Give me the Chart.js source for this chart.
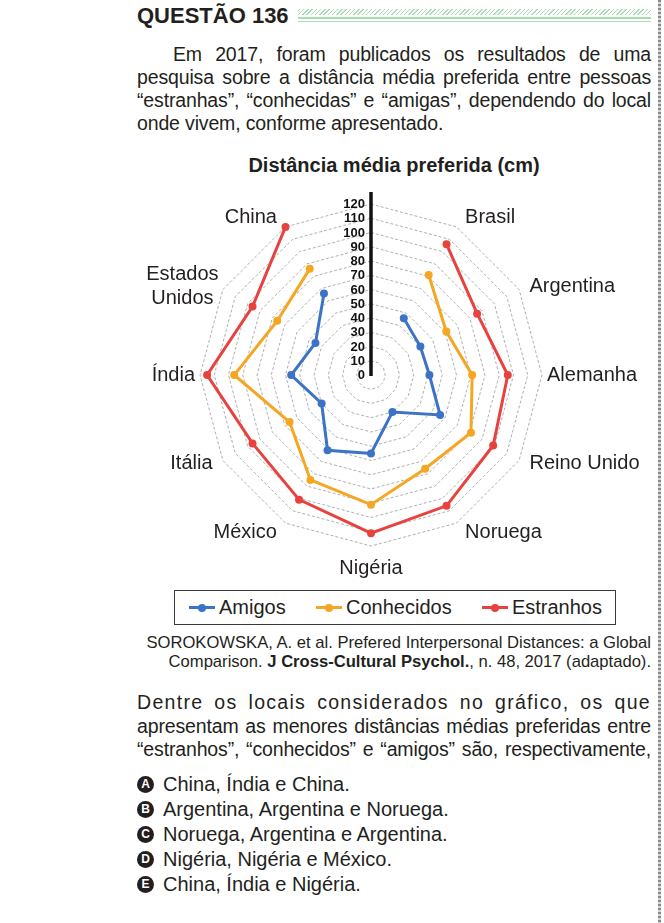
<!DOCTYPE html>
<html lang="pt-BR">
<head>
<meta charset="utf-8">
<title>Questão 136</title>
<script src="https://cdn.jsdelivr.net/npm/chart.js@4.4.1/dist/chart.umd.min.js"></script>
<style>
    html, body {
        margin: 0;
        padding: 0;
        background: #fff;
    }
    body {
        position: relative;
        width: 664px;
        height: 923px;
        overflow: hidden;
        font-family: "Liberation Sans", Arial, sans-serif;
        color: #231f20;
    }
    .abs { position: absolute; }
    #questao {
        left: 137px;
        top: 3px;
        font-weight: bold;
        font-size: 22px;
        line-height: 26px;
    }
    #faixa {
        left: 298px;
        top: 9px;
        width: 353px;
        height: 14px;
    }
    #faixa .hachura {
        height: 6px;
        background: repeating-linear-gradient(-45deg, #a9dcb2 0 1px, transparent 1px 3px);
    }
    #faixa .linha {
        height: 1.5px;
        background: #a9dcb2;
        margin-top: 2px;
    }
    #borda {
        left: 658px;
        top: 0;
        width: 3px;
        height: 923px;
        background: repeating-linear-gradient(to bottom, #8a8a8a 0 2px, #d6d6d6 2px 4px);
    }
    .linhas div {
        white-space: nowrap;
        text-align: justify;
        text-align-last: justify;
        letter-spacing: -0.15px;
    }
    .linhas div.fim {
        text-align-last: left;
    }
    #enunciado {
        left: 137px;
        top: 43px;
        width: 514px;
        font-size: 19.5px;
        line-height: 23px;
    }
    #enunciado .l1 { padding-left: 36px; }
    #titulo {
        left: 137px;
        top: 153px;
        width: 514px;
        text-align: center;
        font-weight: bold;
        font-size: 20px;
        line-height: 24px;
    }
    #grafico {
        left: 0;
        top: 174px;
        width: 664px;
        height: 414px;
    }
    #legenda {
        left: 174px;
        top: 590px;
        width: 413px;
        height: 33px;
        border: 1px solid #3a3a3a;
        padding: 0 13px 0 14px;
        display: flex;
        justify-content: space-between;
        align-items: center;
        font-size: 20px;
    }
    #legenda .item {
        display: flex;
        align-items: center;
    }
    #legenda .marca {
        position: relative;
        width: 26px;
        height: 3px;
        margin-right: 4px;
    }
    #legenda .marca span {
        position: absolute;
        left: 9px;
        top: -2.5px;
        width: 8px;
        height: 8px;
        border-radius: 50%;
    }
    #fonte {
        left: 137px;
        top: 633px;
        width: 514px;
        text-align: right;
        font-size: 16.6px;
        line-height: 19px;
    }
    #pergunta {
        left: 137px;
        top: 691px;
        width: 514px;
        font-size: 19.5px;
        line-height: 23.5px;
    }
    #pergunta .l1 { letter-spacing: 1.3px; }
    #alternativas {
        left: 137px;
        top: 772px;
        font-size: 20px;
        line-height: 25px;
    }
    #alternativas div {
        display: flex;
        align-items: center;
    }
    #alternativas b {
        display: inline-block;
        width: 17px;
        height: 17px;
        border-radius: 50%;
        background: #231f20;
        color: #fff;
        font-size: 12px;
        line-height: 17px;
        text-align: center;
        margin-right: 9px;
    }
</style>
</head>
<body>

<div id="questao" class="abs">QUESTÃO 136</div>
<div id="faixa" class="abs"><div class="hachura"></div><div class="linha"></div><div class="linha"></div></div>
<div id="borda" class="abs"></div>

<div id="enunciado" class="abs linhas">
    <div class="l1">Em 2017, foram publicados os resultados de uma</div>
    <div>pesquisa sobre a distância média preferida entre pessoas</div>
    <div>“estranhas”, “conhecidas” e “amigas”, dependendo do local</div>
    <div class="fim">onde vivem, conforme apresentado.</div>
</div>

<div id="titulo" class="abs">Distância média preferida (cm)</div>

<div id="grafico" class="abs"><canvas id="radar"></canvas></div>

<div id="legenda" class="abs"></div>

<div id="fonte" class="abs">SOROKOWSKA, A. et al. Prefered Interpersonal Distances: a Global<br>Comparison. <b>J Cross-Cultural Psychol.</b>, n. 48, 2017 (adaptado).</div>

<div id="pergunta" class="abs linhas">
    <div class="l1">Dentre os locais considerados no gráfico, os que</div>
    <div>apresentam as menores distâncias médias preferidas entre</div>
    <div>“estranhos”, “conhecidos” e “amigos” são, respectivamente,</div>
</div>

<div id="alternativas" class="abs">
    <div><b>A</b>China, Índia e China.</div>
    <div><b>B</b>Argentina, Argentina e Noruega.</div>
    <div><b>C</b>Noruega, Argentina e Argentina.</div>
    <div><b>D</b>Nigéria, Nigéria e México.</div>
    <div><b>E</b>China, Índia e Nigéria.</div>
</div>

<script>
// eixo do topo fica sem pais (so a escala)
const locais = ['', 'Brasil', 'Argentina', 'Alemanha', 'Reino Unido', 'Noruega', 'Nigéria',
    'México', 'Itália', 'Índia', ['Estados', 'Unidos'], 'China'];

const amigos     = [null, 46, 40, 41, 56, 30, 55, 61, 40, 56, 45, 66];
const conhecidos = [null, 81, 61, 71, 81, 76, 91, 85, 66, 96, 76, 86];
const estranhos  = [null, 106, 86, 96, 99, 106, 111, 101, 96, 115, 96, 120];

const escalaMin = 0;
const escalaMax = 120;
const escalaPasso = 10;

const corAmigos = '#3b74c6';
const corConhecidos = '#f5a623';
const corEstranhos = '#e8423f';

const fonteTexto = '"Liberation Sans", Arial, sans-serif';

// linha preta vertical + numeros da escala
const eixoVertical = {
    id: 'eixoVertical',
    afterDraw(chart) {
        const s = chart.scales.r;
        const ctx = chart.ctx;
        ctx.save();
        ctx.strokeStyle = '#111';
        ctx.lineWidth = 3.5;
        ctx.beginPath();
        ctx.moveTo(s.xCenter, s.yCenter + 1);
        ctx.lineTo(s.xCenter, s.yCenter - s.drawingArea - 12);
        ctx.stroke();

        ctx.font = 'bold 13px ' + fonteTexto;
        ctx.fillStyle = '#111';
        ctx.textAlign = 'right';
        ctx.textBaseline = 'middle';
        s.ticks.forEach(t => {
            const d = s.getDistanceFromCenterForValue(t.value);
            ctx.fillText(t.label, s.xCenter - 6, s.yCenter - d + 0.5);
        });
        ctx.restore();
    }
};

// nomes dos paises em volta da teia
const rotulosPaises = {
    id: 'rotulosPaises',
    afterDraw(chart) {
        const s = chart.scales.r;
        const ctx = chart.ctx;
        ctx.save();
        ctx.font = '20px ' + fonteTexto;
        ctx.fillStyle = '#231f20';
        ctx.textAlign = 'center';
        ctx.textBaseline = 'middle';
        locais.forEach((nome, i) => {
            const linhas = [].concat(nome);
            if (!linhas[0]) return;
            const ang = s.getIndexAngle(i);
            const cos = Math.cos(ang), sin = Math.sin(ang);
            const p = s.getPointPosition(i, s.drawingArea + 5 + 14 * Math.abs(cos));
            const larg = Math.max(...linhas.map(l => ctx.measureText(l).width));
            let cx = p.x, cy;
            if (Math.abs(sin) < 0.01) {
                cy = p.y - 3 * cos;
            } else {
                cx = p.x + Math.sign(sin) * (larg / 2 - (linhas.length > 1 ? 6 : 0));
                cy = p.y + 6 * cos;
            }
            linhas.forEach((l, j) => {
                ctx.fillText(l, cx, cy + (j - (linhas.length - 1) / 2) * 24);
            });
        });
        ctx.restore();
    }
};

function serie(label, dados, cor) {
    return {
        label: label,
        data: dados,
        borderColor: cor,
        backgroundColor: cor,
        pointBackgroundColor: cor,
        pointBorderColor: cor,
        borderWidth: 3,
        pointRadius: 4,
        pointBorderWidth: 0,
        fill: false,
        spanGaps: false,
        tension: 0
    };
}

const ctx = document.getElementById('radar').getContext('2d');
const radar = new Chart(ctx, {
    type: 'radar',
    data: {
        labels: locais,
        datasets: [
            serie('Amigos', amigos, corAmigos),
            serie('Conhecidos', conhecidos, corConhecidos),
            serie('Estranhos', estranhos, corEstranhos)
        ]
    },
    options: {
        responsive: true,
        maintainAspectRatio: false,
        animation: false,
        layout: { padding: { left: 200, right: 122, top: 30, bottom: 42 } },
        plugins: {
            legend: { display: false },
            tooltip: { enabled: false }
        },
        scales: {
            r: {
                min: escalaMin,
                max: escalaMax,
                ticks: { display: false, stepSize: escalaPasso },
                angleLines: { display: false },
                grid: { color: '#9c9c9c', lineWidth: 0.8, borderDash: [3, 2] },
                border: { dash: [3, 2] },
                pointLabels: { display: false }
            }
        }
    },
    plugins: [eixoVertical, rotulosPaises]
});

// legenda em caixa, montada a partir dos datasets
function montarLegenda(chart) {
    const box = document.getElementById('legenda');
    box.innerHTML = '';
    chart.data.datasets.forEach(ds => {
        const item = document.createElement('div');
        item.className = 'item';
        item.innerHTML = `
            <div class="marca" style="background:${ds.borderColor}"><span style="background:${ds.borderColor}"></span></div>
            <div>${ds.label}</div>
        `;
        box.appendChild(item);
    });
}
montarLegenda(radar);
</script>
</body>
</html>
